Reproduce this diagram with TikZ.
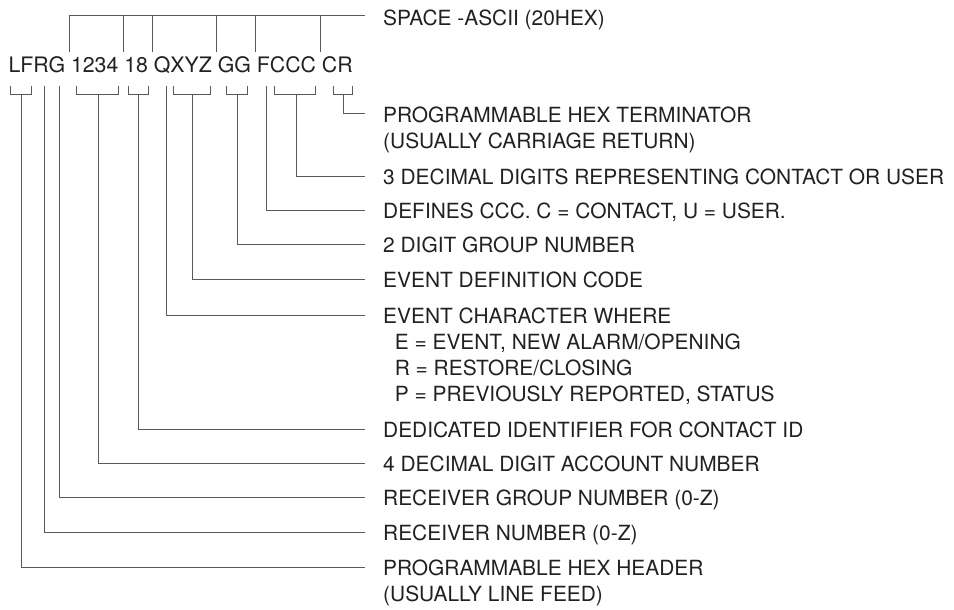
\documentclass[tikz,border=0pt]{standalone}
\usepackage{fontspec}
\setmainfont{TeX Gyre Heros}
\begin{document}
\begin{tikzpicture}[x=1pt,y=-1pt,
  ln/.style={draw=black!65,line width=1pt},
  lab/.style={anchor=north west,inner sep=0pt,align=left,text=black!87,
    font=\fontsize{20.9}{26}\selectfont},
  code/.style={anchor=base west,inner sep=0pt,text=black!87,
    font=\fontsize{21.3}{26}\selectfont}]
\useasboundingbox (0,0) rectangle (954,610);
% code string
\node[code] (str) at (8.4,73) {LFRG 1234 18 QXYZ GG FCCC CR};
% labels (top of caps = line y - 7.5)
\node[lab] (lsp) at (383,9.5) {SPACE -ASCII (20HEX)};
\node[lab] (lcr) at (383,106.5) {PROGRAMMABLE HEX TERMINATOR\\(USUALLY CARRIAGE RETURN)};
\node[lab] (lccc) at (383,168.5) {3 DECIMAL DIGITS REPRESENTING CONTACT OR USER};
\node[lab] (lf) at (383,202.5) {DEFINES CCC. C = CONTACT, U = USER.};
\node[lab] (lgg) at (383,236.5) {2 DIGIT GROUP NUMBER};
\node[lab] (lxyz) at (383,271.5) {EVENT DEFINITION CODE};
\node[lab] (lq) at (383,307.5) {EVENT CHARACTER WHERE\\\ \ E = EVENT, NEW ALARM/OPENING\\\ \ R = RESTORE/CLOSING\\\ \ P = PREVIOUSLY REPORTED, STATUS};
\node[lab] (l18) at (383,421.5) {DEDICATED IDENTIFIER FOR CONTACT ID};
\node[lab] (l1234) at (383,455.5) {4 DECIMAL DIGIT ACCOUNT NUMBER};
\node[lab] (lg) at (383,489.5) {RECEIVER GROUP NUMBER (0-Z)};
\node[lab] (lr) at (383,524.5) {RECEIVER NUMBER (0-Z)};
\node[lab] (llf) at (383,559.5) {PROGRAMMABLE HEX HEADER\\(USUALLY LINE FEED)};
% line end points
\coordinate (esp) at (365,16);
\coordinate (ecr) at (365,114);
\coordinate (eccc) at (365,176);
\coordinate (ef) at (365,210);
\coordinate (egg) at (365,244);
\coordinate (exyz) at (365,279);
\coordinate (eq) at (365,315);
\coordinate (e18) at (365,429);
\coordinate (e1234) at (365,463);
\coordinate (eg) at (365,497);
\coordinate (er) at (365,532);
\coordinate (elf) at (365,567);
% top: space markers
\coordinate (t1) at (69,16);
\draw[ln] (69,52) -- (t1) -- (esp);
\foreach \x in {123,152,216,255,320} \draw[ln] (\x,52) -- (\x,16);
% bottom brackets
\coordinate (blf) at (21,95);
\coordinate (br) at (44,86);
\coordinate (bg) at (59,86);
\coordinate (b1234) at (98,95);
\coordinate (b18) at (138,95);
\coordinate (bq) at (166,86);
\coordinate (bxyz) at (192,95);
\coordinate (bgg) at (237,95);
\coordinate (bf) at (266,86);
\coordinate (bccc) at (296,95);
\coordinate (bcr) at (343,95);
\foreach \a/\b in {10/31,76/118,128/148,173/210,226/247,274/315,333/352}
  \draw[ln] (\a,86) -- (\a,95) -- (\b,95) -- (\b,86);
\draw[ln] (blf) |- (elf);
\draw[ln] (br) |- (er);
\draw[ln] (bg) |- (eg);
\draw[ln] (b1234) |- (e1234);
\draw[ln] (b18) |- (e18);
\draw[ln] (bq) |- (eq);
\draw[ln] (bxyz) |- (exyz);
\draw[ln] (bgg) |- (egg);
\draw[ln] (bf) |- (ef);
\draw[ln] (bccc) |- (eccc);
\draw[ln] (bcr) |- (ecr);
\end{tikzpicture}
\end{document}
